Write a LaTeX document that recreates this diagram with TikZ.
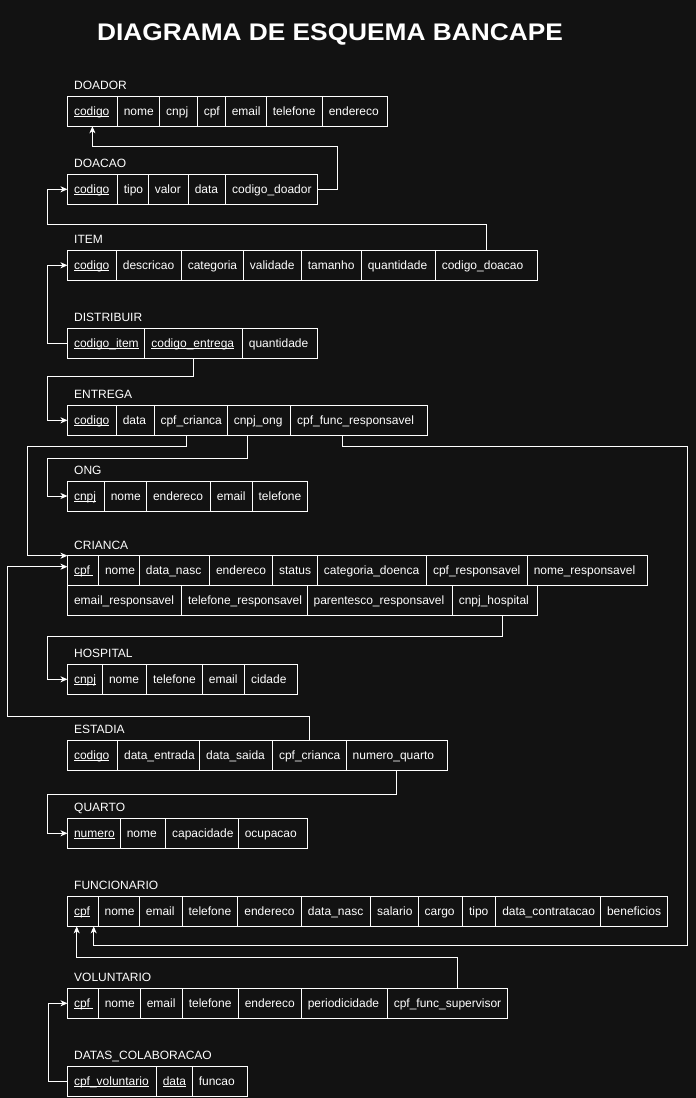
\documentclass[tikz,border=0pt]{standalone}
\usepackage{fontspec}
\setmainfont{Liberation Sans}
\usepackage{graphicx}
\usetikzlibrary{arrows.meta}

\definecolor{canvas}{RGB}{18,18,18}

% underlined primary-key field
\newcommand\keyfld[1]{\sbox0{#1}\rlap{\rule[-1.6pt]{\wd0}{0.75pt}}\usebox0}
% one row of a table: prefix, top edge, list of left/right/key/text
\newcommand\tblrow[3]{%
  \foreach \xa/\xb/\k/\ct in {#3}{%
    \node[cell] (#1-\k) at (\xa,#2)
      {\makebox[\dimexpr\xb pt-\xa pt\relax][l]{\hspace{6.5pt}\ct}};}}

\tikzset{
  cell/.style={draw=white, line width=1pt, inner sep=0pt, outer sep=0pt,
    minimum height=30pt, anchor=north west, text height=10pt, text depth=2pt,
    text=white, font=\fontsize{12}{14}\selectfont},
  tname/.style={anchor=base west, inner sep=0pt, text=white,
    font=\fontsize{12}{14}\selectfont},
  fk/.style={draw=white, line width=1pt,
    -{Stealth[length=7pt,width=6pt,inset=2pt]}},
}

\begin{document}
\begin{tikzpicture}[x=1pt, y=-1pt]
\fill[canvas] (0,0) rectangle (696,1098);
\useasboundingbox (0,0) rectangle (696,1098);

\node[anchor=base, inner sep=0pt, text=white,
  font=\bfseries\fontsize{24}{28}\selectfont] (title) at (330,40)
  {\scalebox{1.095}[1]{DIAGRAMA DE ESQUEMA BANCAPE}};

% DOADOR
\node[tname] (doador-lbl) at (74,89.5) {DOADOR};
\tblrow{doador}{96.3}{67.5/117.3/codigo/\keyfld{codigo}, 117.3/159.7/nome/nome,
  159.7/197.3/cnpj/cnpj, 197.3/225.3/cpf/cpf, 225.3/266.3/email/email,
  266.3/322.3/telefone/telefone, 322.3/387.3/endereco/endereco}

% DOACAO
\node[tname] (doacao-lbl) at (74,167.5) {DOACAO};
\tblrow{doacao}{174.3}{67.5/117.3/codigo/\keyfld{codigo}, 117.3/148.3/tipo/tipo,
  148.3/188.3/valor/valor, 188.3/225.7/data/data,
  225.7/317.3/coddoador/codigo\_doador}

% ITEM
\node[tname] (item-lbl) at (74,243.5) {ITEM};
\tblrow{item}{250.3}{67.5/116.4/codigo/\keyfld{codigo}, 116.4/181.3/descricao/descricao,
  181.3/243.4/categoria/categoria, 243.4/301.3/validade/validade,
  301.3/361.3/tamanho/tamanho, 361.3/435.3/quantidade/quantidade,
  435.3/537.3/coddoacao/codigo\_doacao}

% DISTRIBUIR
\node[tname] (distribuir-lbl) at (74,321.5) {DISTRIBUIR};
\tblrow{distribuir}{328.3}{67.5/144.9/coditem/\keyfld{codigo\_item},
  144.9/242.4/codentrega/\keyfld{codigo\_entrega},
  242.4/317.4/quantidade/quantidade}

% ENTREGA
\node[tname] (entrega-lbl) at (74,398.5) {ENTREGA};
\tblrow{entrega}{405.3}{67.5/116.3/codigo/\keyfld{codigo}, 116.3/154/data/data,
  154/227.3/cpfcrianca/cpf\_crianca, 227.3/290.7/cnpjong/cnpj\_ong,
  290.7/427.4/cpffunc/cpf\_func\_responsavel}

% ONG
\node[tname] (ong-lbl) at (74,474.5) {ONG};
\tblrow{ong}{481}{67.5/104.3/cnpj/\keyfld{cnpj}, 104.3/146.5/nome/nome,
  146.5/210.4/endereco/endereco, 210.4/252.1/email/email,
  252.1/307.6/telefone/telefone}

% CRIANCA (two rows)
\node[tname] (crianca-lbl) at (74,549) {CRIANCA};
\tblrow{crianca}{555.3}{67.5/98.5/cpf/\keyfld{cpf\ }, 98.5/139.4/nome/nome,
  139.4/209.5/datanasc/data\_nasc, 209.5/272.5/endereco/endereco,
  272.5/317.4/status/status, 317.4/426.5/categoria/categoria\_doenca,
  426.5/527.3/cpfresp/cpf\_responsavel, 527.3/647.1/nomeresp/nome\_responsavel}
\tblrow{crianca}{585.3}{67.5/181.5/emailresp/email\_responsavel,
  181.5/307.1/telresp/telefone\_responsavel,
  307.1/452.3/parentesco/parentesco\_responsavel,
  452.3/537.1/cnpjhosp/cnpj\_hospital}

% HOSPITAL
\node[tname] (hospital-lbl) at (74,657.5) {HOSPITAL};
\tblrow{hospital}{664.3}{67.5/102.5/cnpj/\keyfld{cnpj}, 102.5/146.5/nome/nome,
  146.5/202.4/telefone/telefone, 202.4/244.6/email/email,
  244.6/297.4/cidade/cidade}

% ESTADIA
\node[tname] (estadia-lbl) at (74,733.5) {ESTADIA};
\tblrow{estadia}{740.3}{67.5/117.6/codigo/\keyfld{codigo},
  117.6/199.7/entrada/data\_entrada, 199.7/272.5/saida/data\_saida,
  272.5/346.2/cpfcrianca/cpf\_crianca, 346.2/447.4/numquarto/numero\_quarto}

% QUARTO
\node[tname] (quarto-lbl) at (74,811.5) {QUARTO};
\tblrow{quarto}{818.3}{67.5/120.3/numero/\keyfld{numero}, 120.3/165.6/nome/nome,
  165.6/238.3/capacidade/capacidade, 238.3/307.6/ocupacao/ocupacao}

% FUNCIONARIO
\node[tname] (funcionario-lbl) at (74,889.5) {FUNCIONARIO};
\tblrow{funcionario}{896.3}{67.5/98.1/cpf/\keyfld{cpf}, 98.1/139.4/nome/nome,
  139.4/182/email/email, 182/237.9/telefone/telefone,
  237.9/301.4/endereco/endereco, 301.4/370.6/datanasc/data\_nasc,
  370.6/418.1/salario/salario, 418.1/462.5/cargo/cargo, 462.5/495.8/tipo/tipo,
  495.8/600.5/contratacao/data\_contratacao, 600.5/667.5/beneficios/beneficios}

% VOLUNTARIO
\node[tname] (voluntario-lbl) at (74,981.5) {VOLUNTARIO};
\tblrow{voluntario}{988.3}{67.5/98.3/cpf/\keyfld{cpf\ }, 98.3/140.3/nome/nome,
  140.3/182.3/email/email, 182.3/238.3/telefone/telefone,
  238.3/301.3/endereco/endereco, 301.3/387.3/periodicidade/periodicidade,
  387.3/507.3/cpfsup/cpf\_func\_supervisor}

% DATAS_COLABORACAO
\node[tname] (datas-lbl) at (74,1059.5) {DATAS\_COLABORACAO};
\tblrow{datas}{1066.3}{67.5/156.3/cpfvol/\keyfld{cpf\_voluntario},
  156.3/192.3/data/\keyfld{data}, 192.3/247.3/funcao/funcao}

% foreign keys
\coordinate (fc1) at ([xshift=10.9pt]funcionario-cpf.south);
\coordinate (fc2) at ([xshift=-6.1pt]funcionario-cpf.south);

\draw[fk] (doacao-coddoador.east) -| (337,146) -| (doador-codigo.south);
\draw[fk] (item-coddoacao.north) |- (47.5,224.7) |- (doacao-codigo.west);
\draw[fk] (distribuir-coditem.west) -| (47.5,300) |- (item-codigo.west);
\draw[fk] (distribuir-codentrega.south) |- (47.5,376) |- (entrega-codigo.west);
\draw[fk] ([xshift=-4pt]entrega-cpfcrianca.south) |- (27.5,446)
  |- ([yshift=14.6pt]crianca-cpf.west);
\draw[fk] ([xshift=-11.8pt]entrega-cnpjong.south) |- (47.5,458.3) |- (ong-cnpj.west);
\draw[fk] ([xshift=-16.8pt]entrega-cpffunc.south) |- (687,446)
  |- (fc1 |- 0,945) -- (fc1);
\draw[fk] ([xshift=8.2pt]crianca-cnpjhosp.south) |- (47.5,636.7) |- (hospital-cnpj.west);
\draw[fk] (estadia-cpfcrianca.north) |- (7.5,716) |- ([yshift=3.6pt]crianca-cpf.west);
\draw[fk] (estadia-numquarto.south) |- (47.5,794.3) |- (quarto-numero.west);
\draw[fk] ([xshift=10.2pt]voluntario-cpfsup.north) |- (fc2 |- 0,957.5) -- (fc2);
\draw[fk] (datas-cpfvol.west) -| (48.3,1040) |- (voluntario-cpf.west);
\end{tikzpicture}
\end{document}
